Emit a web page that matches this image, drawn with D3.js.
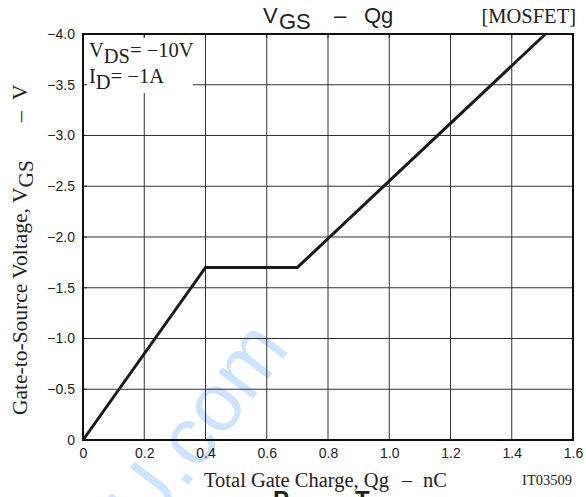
<!DOCTYPE html>
<html>
<head>
<meta charset="utf-8">
<script src="https://cdn.jsdelivr.net/npm/d3@7"></script>
<style>
  html, body { margin: 0; padding: 0; background: #fff; overflow: hidden; }
  svg { display: block; }
</style>
</head>
<body>
<script>
// Gate charge curve: total gate charge (nC) vs gate-to-source voltage (V)
const qgValues = [0, 0.4, 0.7, 1.51];
const vgsValues = [0, -1.7, -1.7, -4.0];

const xTickValues = [0, 0.2, 0.4, 0.6, 0.8, 1.0, 1.2, 1.4, 1.6];
const xTickLabels = ["0", "0.2", "0.4", "0.6", "0.8", "1.0", "1.2", "1.4", "1.6"];
const yTickValues = [0, -0.5, -1.0, -1.5, -2.0, -2.5, -3.0, -3.5, -4.0];
const yTickLabels = ["0", "\u22120.5", "\u22121.0", "\u22121.5", "\u22122.0", "\u22122.5", "\u22123.0", "\u22123.5", "\u22124.0"];

const W = 586, H = 497;
const plot = { left: 83, right: 573, top: 34, bottom: 440 };
const SERIF = "'Liberation Serif', 'Times New Roman', serif";
const SANS = "'Liberation Sans', Arial, Helvetica, sans-serif";

const svg = d3.select("body").append("svg")
  .attr("width", W).attr("height", H);

const x = d3.scaleLinear().domain([0, 1.6]).range([plot.left, plot.right]);
const y = d3.scaleLinear().domain([0, -4]).range([plot.bottom, plot.top]);

// faint background stamp
svg.append("text")
  .attr("transform", "translate(148,538) rotate(-53)")
  .attr("font-family", SANS)
  .attr("font-size", 82)
  .attr("fill", "#cde3fb")
  .text("U.com");

// grid
const grid = svg.append("g").attr("stroke", "#333").attr("stroke-width", 1);
grid.selectAll("line.vx").data(xTickValues.slice(1, -1)).join("line")
  .attr("x1", d => x(d)).attr("x2", d => x(d))
  .attr("y1", plot.top).attr("y2", plot.bottom);
grid.selectAll("line.hy").data(yTickValues.slice(1, -1)).join("line")
  .attr("y1", d => y(d)).attr("y2", d => y(d))
  .attr("x1", plot.left).attr("x2", plot.right);

// condition box (white patch behind the test conditions)
svg.append("rect")
  .attr("x", plot.left + 1).attr("y", plot.top + 3)
  .attr("width", 109).attr("height", 56)
  .attr("fill", "#fff");

// short inward ticks along the frame
const ticks = svg.append("g").attr("stroke", "#222").attr("stroke-width", 1);
ticks.selectAll("line.tt").data(xTickValues).join("line")
  .attr("x1", d => x(d)).attr("x2", d => x(d))
  .attr("y1", plot.top).attr("y2", plot.top + 4);
ticks.selectAll("line.tl").data(yTickValues).join("line")
  .attr("y1", d => y(d)).attr("y2", d => y(d))
  .attr("x1", plot.left).attr("x2", plot.left + 4);

// axes (labels only, frame drawn separately)
const xAxis = d3.axisBottom(x).tickValues(xTickValues)
  .tickFormat((d, i) => xTickLabels[i]).tickSize(0).tickPadding(8);
const gx = svg.append("g").attr("transform", `translate(0,${plot.bottom})`).call(xAxis);
gx.select(".domain").remove();
gx.selectAll("text").attr("font-family", SANS).attr("font-size", 14).attr("fill", "#222");

const yAxis = d3.axisLeft(y).tickValues(yTickValues)
  .tickFormat((d, i) => yTickLabels[i]).tickSize(0).tickPadding(8);
const gy = svg.append("g").attr("transform", `translate(${plot.left},0)`).call(yAxis);
gy.select(".domain").remove();
gy.selectAll("text").attr("font-family", SANS).attr("font-size", 14).attr("fill", "#222");

// frame
svg.append("rect")
  .attr("x", plot.left).attr("y", plot.top)
  .attr("width", plot.right - plot.left).attr("height", plot.bottom - plot.top)
  .attr("fill", "none").attr("stroke", "#111").attr("stroke-width", 2);

// curve
const line = d3.line().x((d, i) => x(qgValues[i])).y((d, i) => y(vgsValues[i]));
svg.append("path")
  .datum(qgValues)
  .attr("d", line)
  .attr("fill", "none")
  .attr("stroke", "#1a1a1a")
  .attr("stroke-width", 3)
  .attr("stroke-linejoin", "miter");

// test conditions
const cond = svg.append("g").attr("font-family", SERIF).attr("font-size", 20.5).attr("fill", "#222");
const c1 = cond.append("text").attr("x", 89).attr("y", 57);
c1.append("tspan").text("V");
c1.append("tspan").attr("dy", 6).text("DS");
c1.append("tspan").attr("dy", -6).text("= \u221210V");
const c2 = cond.append("text").attr("x", 89).attr("y", 83);
c2.append("tspan").text("I");
c2.append("tspan").attr("dy", 6).text("D");
c2.append("tspan").attr("dy", -6).text("= \u22121A");

// title
const title = svg.append("text").attr("y", 23)
  .attr("font-family", SANS).attr("font-size", 22).attr("fill", "#222");
title.append("tspan").attr("x", 263).text("V");
title.append("tspan").attr("x", 279).attr("dy", 6).text("GS");
title.append("tspan").attr("x", 334).attr("dy", -6).text("\u2013");
title.append("tspan").attr("x", 364).text("Qg");

svg.append("text").attr("x", 576).attr("y", 23)
  .attr("text-anchor", "end")
  .attr("font-family", SERIF).attr("font-size", 20.5).attr("fill", "#222")
  .text("[MOSFET]");

// axis titles
const xl = svg.append("text").attr("y", 487)
  .attr("font-family", SERIF).attr("font-size", 20.5).attr("fill", "#222");
xl.append("tspan").attr("x", 204).text("Total Gate Charge, Qg");
xl.append("tspan").attr("x", 402).text("\u2013");
xl.append("tspan").attr("x", 423).text("nC");

svg.append("text").attr("x", 572).attr("y", 485)
  .attr("text-anchor", "end")
  .attr("font-family", SERIF).attr("font-size", 14.5).attr("fill", "#222")
  .text("IT03509");

const yl = svg.append("text")
  .attr("transform", "translate(27,0) rotate(-90)")
  .attr("font-family", SERIF).attr("font-size", 21.5).attr("fill", "#222");
yl.append("tspan").attr("x", -415).text("Gate-to-Source Voltage, V");
yl.append("tspan").attr("dy", 6).text("GS");
yl.append("tspan").attr("x", -122).attr("dy", -6).text("\u2013");
yl.append("tspan").attr("x", -100).text("V");

// next section heading, running off the bottom edge
const head = svg.append("g").attr("font-family", SANS).attr("font-weight", "bold")
  .attr("font-size", 24).attr("fill", "#222");
head.append("text").attr("x", 273).attr("y", 508).text("P");
head.append("text").attr("x", 355).attr("y", 508).text("T");
</script>
</body>
</html>
